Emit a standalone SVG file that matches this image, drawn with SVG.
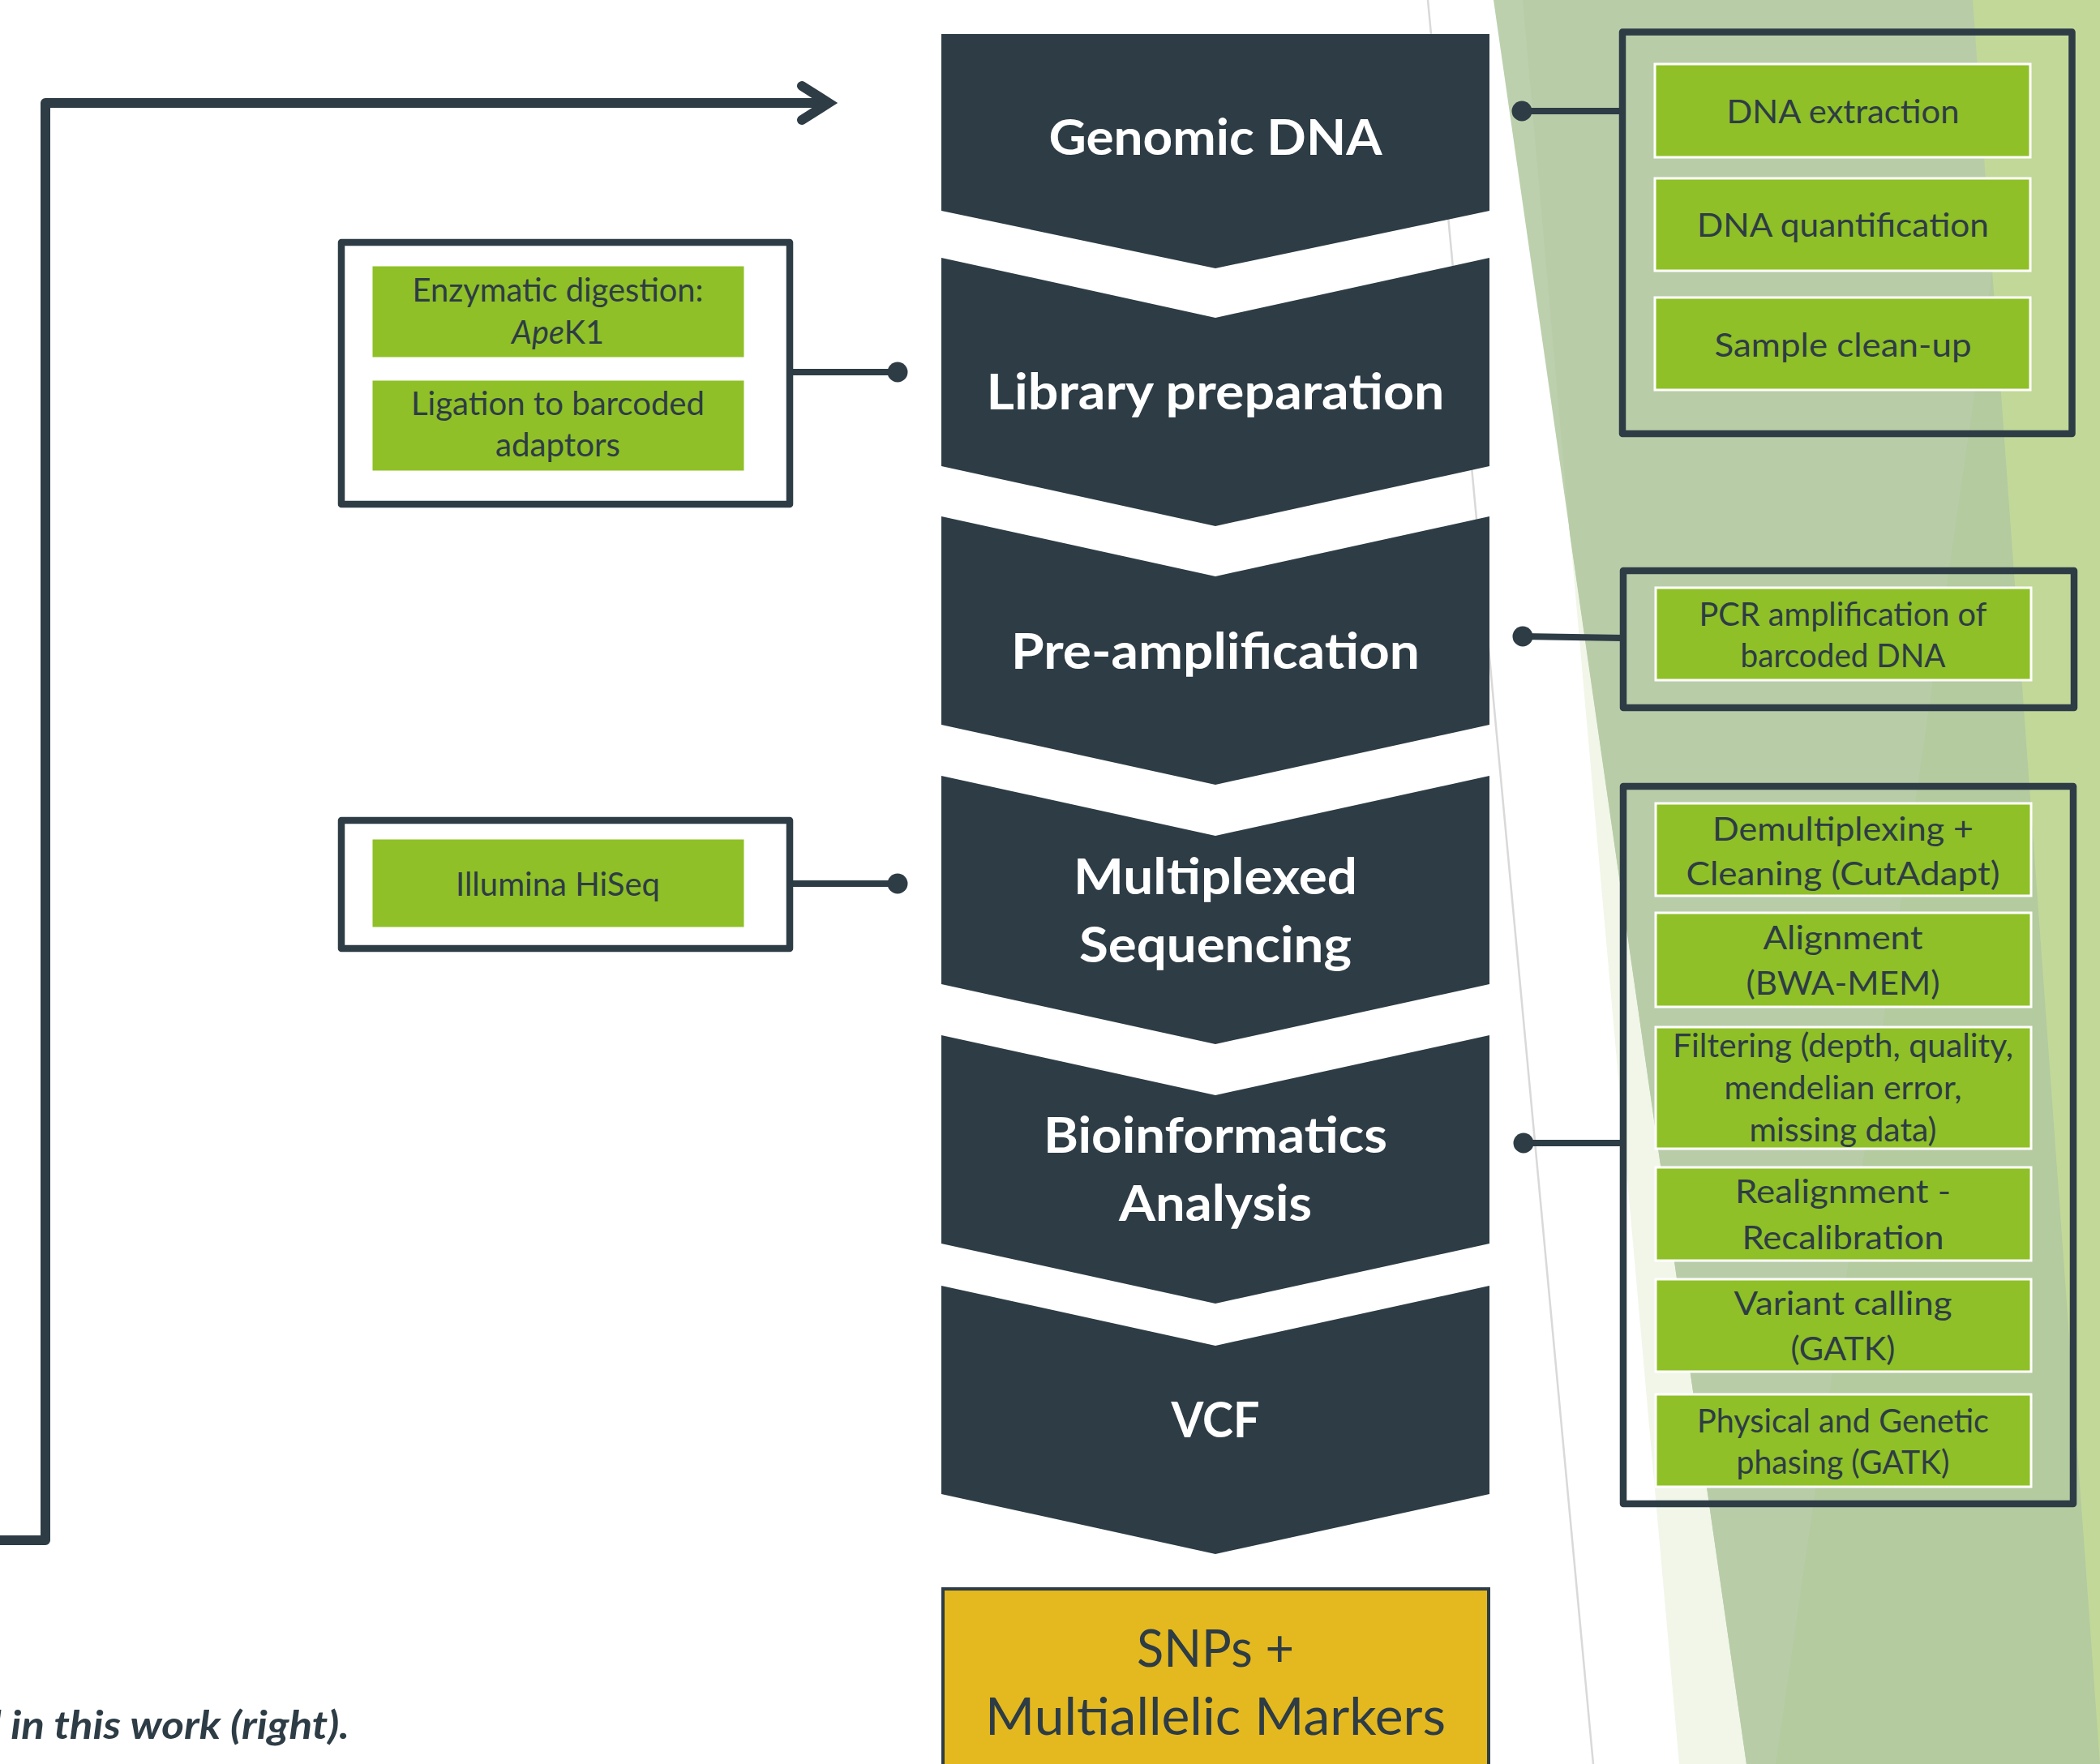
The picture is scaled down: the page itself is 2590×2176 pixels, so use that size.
<svg xmlns="http://www.w3.org/2000/svg" width="2590" height="2176" viewBox="0 0 2590 2176">
<style>
.chev{fill:#2d3c45}
.ct{font-family:Lato,'Open Sans','Liberation Sans',sans-serif;font-weight:bold;font-size:62px;fill:#ffffff;text-anchor:middle}
.frame{fill:none;stroke:#2d3c45;stroke-width:8.5;stroke-linejoin:round}
.gb{fill:#8fc027;stroke:#ffffff;stroke-width:3}
.st{font-family:Lato,'Open Sans','Liberation Sans',sans-serif;font-size:41px;fill:#2d3c45;text-anchor:middle}
.conn{fill:none;stroke:#2d3c45;stroke-width:8}
.dot{fill:#2d3c45}
.yt{font-family:Lato,'Open Sans','Liberation Sans',sans-serif;font-size:63px;fill:#2d3c45;text-anchor:middle}
</style>
<rect width="2590" height="2176" fill="#ffffff"/>
<g id="background">
<polygon points="1878,0 2590,0 2590,2176 2071,2176" fill="#f1f6e9"/>
<polygon points="1842,0 2590,0 2590,2176 2154,2176" fill="#bdd0ae"/>
<polygon points="1878,0 2590,0 2590,2176 2154,2176 1936,658" fill="#b8cca8"/>
<polygon points="2457,336 2590,2176 2190,2176" fill="#b4ca9f"/>
<polygon points="2433,0 2590,0 2590,2176" fill="#c2d898"/>
<line x1="1761" y1="0" x2="1965" y2="2176" stroke="#d9d9d9" stroke-width="2.5"/>
</g>
<g id="connectors">
<path class="conn" d="M0,1900 H56 V127 H1022" style="stroke-width:12;stroke-linejoin:round"/>
<polyline points="989,106 1022,127 989,148" fill="none" stroke="#2d3c45" stroke-width="12" stroke-linecap="round" stroke-linejoin="miter"/>
<line class="conn" x1="973" y1="459" x2="1107" y2="459"/>
<circle class="dot" cx="1107" cy="459" r="12.5"/>
<line class="conn" x1="974" y1="1090" x2="1107" y2="1090"/>
<circle class="dot" cx="1107" cy="1090" r="12.5"/>
<line class="conn" x1="1877" y1="137" x2="2001" y2="137"/>
<circle class="dot" cx="1877" cy="137" r="12.5"/>
<line class="conn" x1="1878" y1="785" x2="2002" y2="787"/>
<circle class="dot" cx="1878" cy="785" r="12.5"/>
<line class="conn" x1="1879" y1="1410" x2="2002" y2="1410"/>
<circle class="dot" cx="1879" cy="1410" r="12.5"/>
</g>
<g id="genomic-dna">
<path class="chev" d="M1161,42 H1837 V260 L1499,331 L1161,260 Z"/>
<text class="ct" x="1499" y="191" textLength="411" lengthAdjust="spacingAndGlyphs">Genomic DNA</text>
</g>
<g id="library-preparation">
<path class="chev" d="M1161,318 L1499,392 L1837,318 V575 L1499,649 L1161,575 Z"/>
<text class="ct" x="1499" y="505" textLength="565" lengthAdjust="spacingAndGlyphs">Library preparation</text>
</g>
<g id="pre-amplification">
<path class="chev" d="M1161,637 L1499,711 L1837,637 V894 L1499,968 L1161,894 Z"/>
<text class="ct" x="1499" y="825" textLength="504" lengthAdjust="spacingAndGlyphs">Pre-amplification</text>
</g>
<g id="multiplexed-sequencing">
<path class="chev" d="M1161,957 L1499,1031 L1837,957 V1214 L1499,1288 L1161,1214 Z"/>
<text class="ct" x="1499" y="1103" textLength="350" lengthAdjust="spacingAndGlyphs">Multiplexed</text>
<text class="ct" x="1499" y="1187" textLength="336" lengthAdjust="spacingAndGlyphs">Sequencing</text>
</g>
<g id="bioinformatics-analysis">
<path class="chev" d="M1161,1277 L1499,1351 L1837,1277 V1534 L1499,1608 L1161,1534 Z"/>
<text class="ct" x="1499" y="1422" textLength="424" lengthAdjust="spacingAndGlyphs">Bioinformatics</text>
<text class="ct" x="1499" y="1506" textLength="238" lengthAdjust="spacingAndGlyphs">Analysis</text>
</g>
<g id="vcf">
<path class="chev" d="M1161,1586 L1499,1660 L1837,1586 V1843 L1499,1917 L1161,1843 Z"/>
<text class="ct" x="1499" y="1773" textLength="109" lengthAdjust="spacingAndGlyphs">VCF</text>
</g>
<g id="snps-markers">
<rect x="1163" y="1960" width="673" height="260" fill="#e4b81f" stroke="#2d3c45" stroke-width="4"/>
<text class="yt" x="1499" y="2056" textLength="194" lengthAdjust="spacingAndGlyphs">SNPs +</text>
<text class="yt" x="1499" y="2140" textLength="568" lengthAdjust="spacingAndGlyphs">Multiallelic Markers</text>
</g>
<g id="library-steps">
<rect class="frame" x="421" y="299" width="553" height="323"/>
<rect class="gb" x="458" y="327" width="461" height="115"/>
<text class="st" x="688" y="372" textLength="359" lengthAdjust="spacingAndGlyphs">Enzymatic digestion:</text>
<text class="st" x="688" y="424" textLength="114" lengthAdjust="spacingAndGlyphs"><tspan font-style="italic">Ape</tspan>K1</text>
<rect class="gb" x="458" y="468" width="461" height="114"/>
<text class="st" x="688" y="512" textLength="362" lengthAdjust="spacingAndGlyphs">Ligation to barcoded</text>
<text class="st" x="688" y="563" textLength="154" lengthAdjust="spacingAndGlyphs">adaptors</text>
</g>
<g id="sequencing-steps">
<rect class="frame" x="421" y="1012" width="553" height="158"/>
<rect class="gb" x="458" y="1034" width="461" height="111"/>
<text class="st" x="688" y="1105" textLength="252" lengthAdjust="spacingAndGlyphs">Illumina HiSeq</text>
</g>
<g id="dna-steps">
<rect class="frame" x="2001" y="39.5" width="554.5" height="495.5"/>
<rect class="gb" x="2041" y="79" width="463" height="115"/>
<text class="st" x="2273" y="152" textLength="287" lengthAdjust="spacingAndGlyphs">DNA extraction</text>
<rect class="gb" x="2041" y="220" width="463" height="114"/>
<text class="st" x="2273" y="292" textLength="360" lengthAdjust="spacingAndGlyphs">DNA quantification</text>
<rect class="gb" x="2041" y="367" width="463" height="114"/>
<text class="st" x="2273" y="440" textLength="317" lengthAdjust="spacingAndGlyphs">Sample clean-up</text>
</g>
<g id="pcr-steps">
<rect class="frame" x="2002" y="704" width="556" height="169"/>
<rect class="gb" x="2042" y="725" width="463" height="114"/>
<text class="st" x="2273" y="772" textLength="355" lengthAdjust="spacingAndGlyphs">PCR amplification of</text>
<text class="st" x="2273" y="823" textLength="253" lengthAdjust="spacingAndGlyphs">barcoded DNA</text>
</g>
<g id="bioinformatics-steps">
<rect class="frame" x="2002" y="970" width="555" height="885"/>
<rect class="gb" x="2042" y="991" width="463" height="114"/>
<text class="st" x="2273" y="1037" textLength="322" lengthAdjust="spacingAndGlyphs">Demultiplexing +</text>
<text class="st" x="2273" y="1092" textLength="387" lengthAdjust="spacingAndGlyphs">Cleaning (CutAdapt)</text>
<rect class="gb" x="2042" y="1126" width="463" height="116"/>
<text class="st" x="2273" y="1171" textLength="197" lengthAdjust="spacingAndGlyphs">Alignment</text>
<text class="st" x="2273" y="1227" textLength="239" lengthAdjust="spacingAndGlyphs">(BWA-MEM)</text>
<rect class="gb" x="2042" y="1267" width="463" height="150"/>
<text class="st" x="2273" y="1304" textLength="420" lengthAdjust="spacingAndGlyphs">Filtering (depth, quality,</text>
<text class="st" x="2273" y="1356" textLength="293" lengthAdjust="spacingAndGlyphs">mendelian error,</text>
<text class="st" x="2273" y="1408" textLength="231" lengthAdjust="spacingAndGlyphs">missing data)</text>
<rect class="gb" x="2042" y="1440" width="463" height="115"/>
<text class="st" x="2273" y="1484" textLength="266" lengthAdjust="spacingAndGlyphs">Realignment -</text>
<text class="st" x="2273" y="1541" textLength="249" lengthAdjust="spacingAndGlyphs">Recalibration</text>
<rect class="gb" x="2042" y="1578" width="463" height="114"/>
<text class="st" x="2273" y="1622" textLength="269" lengthAdjust="spacingAndGlyphs">Variant calling</text>
<text class="st" x="2273" y="1678" textLength="129" lengthAdjust="spacingAndGlyphs">(GATK)</text>
<rect class="gb" x="2042" y="1720" width="463" height="114"/>
<text class="st" x="2273" y="1767" textLength="360" lengthAdjust="spacingAndGlyphs">Physical and Genetic</text>
<text class="st" x="2273" y="1818" textLength="263" lengthAdjust="spacingAndGlyphs">phasing (GATK)</text>
</g>
<g id="caption">
<text x="-27" y="2145" font-family="Lato,'Open Sans','Liberation Sans',sans-serif" font-size="47" font-weight="bold" font-style="italic" fill="#2d3c45" textLength="458" lengthAdjust="spacingAndGlyphs">d in this work (right).</text>
</g>
</svg>
